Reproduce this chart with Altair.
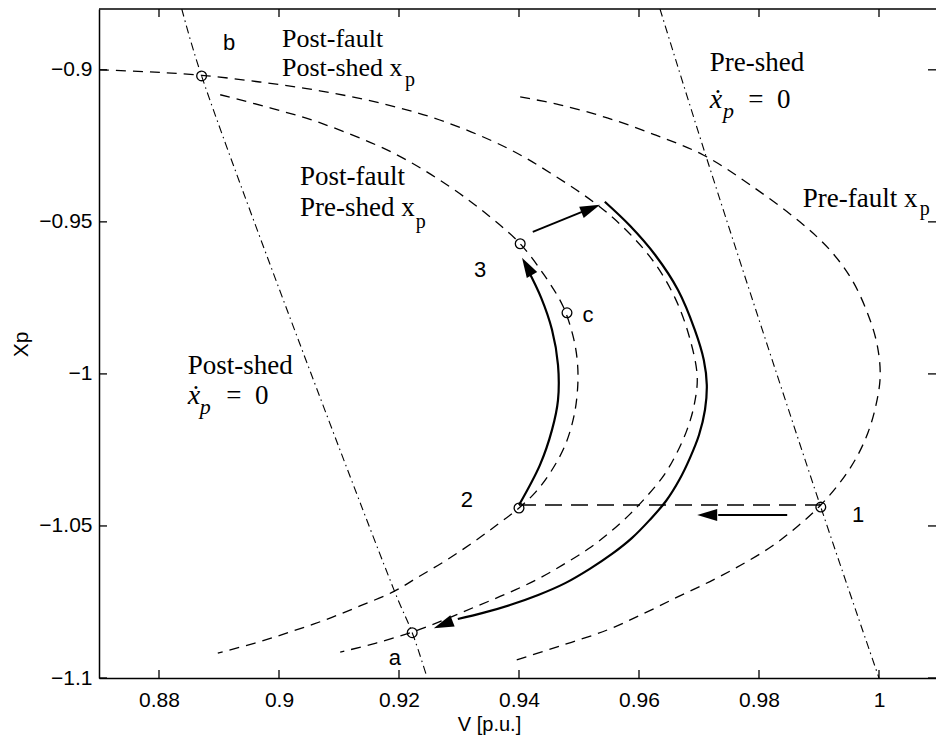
import altair as alt
import pandas as pd

# ---------------- axes ----------------
X_TICKS = [0.88, 0.90, 0.92, 0.94, 0.96, 0.98, 1.00]
Y_TICKS = [-1.10, -1.05, -1.00, -0.95, -0.90]
X_DOMAIN = [0.87, 1.0095]
Y_DOMAIN = [-1.10, -0.88]

# ---------------- dashed nose curves ----------------
PRE_FAULT_V = [0.9402, 0.9468, 0.9547, 0.9627, 0.9707, 0.9785, 0.9868, 0.9918, 0.9955, 0.9982, 0.9997,
               1.0002, 0.9995, 0.9982, 0.9963, 0.9937, 0.9903, 0.9865, 0.9822, 0.9773, 0.9723, 0.9668,
               0.9610, 0.9547, 0.9468, 0.9385]
PRE_FAULT_XP = [-0.9089, -0.9115, -0.9158, -0.9214, -0.9280, -0.9378, -0.9500, -0.9592, -0.9691, -0.9806,
                -0.9905, -1.0007, -1.0102, -1.0191, -1.0273, -1.0352, -1.0431, -1.0500, -1.0566, -1.0625,
                -1.0678, -1.0730, -1.0786, -1.0842, -1.0895, -1.0947]

POST_SHED_V = [0.8700, 0.8785, 0.8871, 0.8968, 0.9068, 0.9168, 0.9268, 0.9380, 0.9460, 0.9535, 0.9585,
               0.9627, 0.9660, 0.9683, 0.9697, 0.9692, 0.9680, 0.9663, 0.9642, 0.9615, 0.9585, 0.9552,
               0.9515, 0.9473, 0.9428, 0.9378, 0.9327, 0.9275, 0.9222, 0.9162, 0.9102]
POST_SHED_XP = [-0.9000, -0.9007, -0.9018, -0.9040, -0.9069, -0.9109, -0.9165, -0.9257, -0.9349, -0.9451,
                -0.9540, -0.9638, -0.9750, -0.9872, -1.0007, -1.0102, -1.0184, -1.0260, -1.0332, -1.0398,
                -1.0461, -1.0520, -1.0576, -1.0628, -1.0678, -1.0724, -1.0766, -1.0809, -1.0849, -1.0885,
                -1.0915]

PRE_SHED_V = [0.8902, 0.8985, 0.9068, 0.9190, 0.9285, 0.9352, 0.9402, 0.9443, 0.9473, 0.9490, 0.9497,
              0.9498, 0.9492, 0.9477, 0.9453, 0.9428, 0.9400, 0.9363, 0.9322, 0.9277, 0.9232, 0.9190,
              0.9135, 0.9077, 0.9018, 0.8960, 0.8898]
PRE_SHED_XP = [-0.9082, -0.9125, -0.9174, -0.9273, -0.9385, -0.9484, -0.9572, -0.9678, -0.9776, -0.9875,
               -0.9954, -1.0036, -1.0135, -1.0234, -1.0322, -1.0388, -1.0441, -1.0497, -1.0556, -1.0615,
               -1.0668, -1.0717, -1.0763, -1.0809, -1.0849, -1.0885, -1.0918]

# horizontal jump 1 -> 2
JUMP_V = [0.9400, 0.9903]
JUMP_XP = [-1.0431, -1.0431]

# ---------------- dash-dot equilibrium lines ----------------
PRESHED_EQ_V = [0.9635, 0.9712, 0.9903, 1.0000]
PRESHED_EQ_XP = [-0.8800, -0.9286, -1.0438, -1.1000]
POSTSHED_EQ_V = [0.8838, 0.8871, 0.9193, 0.9222, 0.9245]
POSTSHED_EQ_XP = [-0.8800, -0.9020, -1.0717, -1.0851, -1.0987]

# ---------------- solid trajectories ----------------
TRAJ1_V = [0.9400, 0.9435, 0.9455, 0.9465, 0.9465, 0.9455, 0.9437, 0.9413]
TRAJ1_XP = [-1.0431, -1.0299, -1.0184, -1.0086, -0.9970, -0.9855, -0.9750, -0.9651]
TRAJ2_V = [0.9543, 0.9585, 0.9627, 0.9665, 0.9693, 0.9708, 0.9713, 0.9710, 0.9700, 0.9685, 0.9667,
           0.9645, 0.9618, 0.9588, 0.9555, 0.9518, 0.9477, 0.9432, 0.9385, 0.9340, 0.9298]
TRAJ2_XP = [-0.9434, -0.9513, -0.9609, -0.9724, -0.9855, -0.9954, -1.0036, -1.0118, -1.0201, -1.0276,
            -1.0349, -1.0418, -1.0480, -1.0540, -1.0592, -1.0641, -1.0688, -1.0727, -1.0760, -1.0786,
            -1.0806]
ARROW3_V = [0.9423, 0.9505]
ARROW3_XP = [-0.9533, -0.9467]
ARROW1_V = [0.9847, 0.9732]
ARROW1_XP = [-1.0464, -1.0464]

# arrow heads (tip positions, direction angle in degrees clockwise from up)
HEAD_V = [0.9405, 0.9535, 0.9697, 0.9258]
HEAD_XP = [-0.9618, -0.9444, -1.0464, -1.0836]
HEAD_ANGLE = [330, 68, 270, 249]

# ---------------- marked points ----------------
PTS_V = [0.8871, 0.9402, 0.9480, 0.9400, 0.9903, 0.9222]
PTS_XP = [-0.9020, -0.9572, -0.9799, -1.0441, -1.0438, -1.0851]

# ---------------- labels ----------------
SANS_TEXT = ["b", "3", "c", "2", "1", "a"]
SANS_V = [0.8917, 0.9335, 0.9515, 0.9313, 0.9965, 0.9193]
SANS_XP = [-0.8934, -0.9681, -0.9829, -1.0438, -1.0487, -1.0957]

BLOCK1_TEXT = ["Post-fault\nPost-shed x"]
BLOCK1_V = [0.9005]
BLOCK1_XP = [-0.8924]
BLOCK2_TEXT = ["Post-fault\nPre-shed x"]
BLOCK2_V = [0.9035]
BLOCK2_XP = [-0.9378]
SERIF_TEXT = ["Pre-shed", "Pre-fault x", "Post-shed", "=", "0", "=", "0"]
SERIF_V = [0.9718, 0.9873, 0.8848, 0.9782, 0.9830, 0.8912, 0.8960]
SERIF_XP = [-0.9003, -0.9451, -1.0000, -0.9125, -0.9125, -1.0099, -1.0099]
SUB_TEXT = ["p", "p", "p"]
SUB_V = [0.9210, 1.0068, 0.9228]
SUB_XP = [-0.9052, -0.9477, -0.9520]
XDOT_V = [0.9718, 0.8848]
XDOT_XP = [-0.9125, -1.0099]
PSUB_V = [0.9740, 0.8868]
PSUB_XP = [-0.9158, -1.0132]

W, H = 837, 669

xs = alt.Scale(domain=X_DOMAIN, nice=False, zero=False)
ys = alt.Scale(domain=Y_DOMAIN, nice=False, zero=False)

x_axis = alt.Axis(values=X_TICKS, format=".2~f", ticks=False, grid=False, domainColor="black",
                  domainWidth=1.5, labelFont="Liberation Sans", labelFontSize=21, labelColor="black",
                  labelPadding=11, title="V [p.u.]", titleFont="Liberation Sans", titleFontSize=20,
                  titleFontWeight="normal", titleColor="black", titleX=390, titleY=52,
                  titleAlign="center", titleBaseline="alphabetic")
y_axis = alt.Axis(values=Y_TICKS, format=".2~f", ticks=False, grid=False, domainColor="black",
                  domainWidth=1.5, labelFont="Liberation Sans", labelFontSize=21, labelColor="black",
                  labelPadding=7, title="Xp", titleFont="Liberation Sans", titleFontSize=21,
                  titleFontWeight="normal", titleColor="black", titleX=-78, titleY=335,
                  titleAlign="center", titleBaseline="middle")

X = alt.X("v:Q", scale=xs, axis=x_axis)
Y = alt.Y("xp:Q", scale=ys, axis=y_axis)


def frame(v, xp, **extra):
    d = pd.DataFrame({"v": v, "xp": xp})
    d["i"] = range(len(d))
    for k, val in extra.items():
        d[k] = val
    return d


curves = pd.concat([
    frame(PRE_FAULT_V, PRE_FAULT_XP, s="prefault"),
    frame(POST_SHED_V, POST_SHED_XP, s="postshed"),
    frame(PRE_SHED_V, PRE_SHED_XP, s="preshed"),
])
eqlines = pd.concat([
    frame(PRESHED_EQ_V, PRESHED_EQ_XP, s="a"),
    frame(POSTSHED_EQ_V, POSTSHED_EQ_XP, s="b"),
])
trajs = pd.concat([
    frame(TRAJ1_V, TRAJ1_XP, s="t1"),
    frame(TRAJ2_V, TRAJ2_XP, s="t2"),
])
arrows = pd.concat([
    frame(ARROW3_V, ARROW3_XP, s="a3"),
    frame(ARROW1_V, ARROW1_XP, s="a1"),
])

l_curves = alt.Chart(curves).mark_line(color="black", strokeWidth=1.3, strokeDash=[10, 7],
                                       interpolate="catmull-rom", clip=True).encode(
    x=X, y=Y, detail="s:N", order="i:Q")
l_jump = alt.Chart(frame(JUMP_V, JUMP_XP)).mark_line(color="black", strokeWidth=1.4,
                                                      strokeDash=[17, 9]).encode(x=X, y=Y, order="i:Q")
l_eq = alt.Chart(eqlines).mark_line(color="black", strokeWidth=1.1, strokeDash=[8, 4, 1.5, 4],
                                    interpolate="catmull-rom", clip=True).encode(
    x=X, y=Y, detail="s:N", order="i:Q")
l_traj = alt.Chart(trajs).mark_line(color="black", strokeWidth=2.2, interpolate="catmull-rom").encode(
    x=X, y=Y, detail="s:N", order="i:Q")
l_arrows = alt.Chart(arrows).mark_line(color="black", strokeWidth=1.8).encode(
    x=X, y=Y, detail="s:N", order="i:Q")
heads = alt.Chart(frame(HEAD_V, HEAD_XP, angle=HEAD_ANGLE)).mark_point(
    shape="M0,0L0.6,2L-0.6,2Z", size=400, filled=True, color="black", opacity=1).encode(
    x=X, y=Y, angle=alt.Angle("angle:Q", scale=None))
pts = alt.Chart(frame(PTS_V, PTS_XP)).mark_point(shape="circle", size=95, filled=False, color="black",
                                                  strokeWidth=1.3, opacity=1).encode(x=X, y=Y)

sans = alt.Chart(frame(SANS_V, SANS_XP, t=SANS_TEXT)).mark_text(
    font="Liberation Sans", fontSize=22, align="center", baseline="alphabetic", color="black").encode(
    x=X, y=Y, text="t:N")
block1 = alt.Chart(frame(BLOCK1_V, BLOCK1_XP, t=BLOCK1_TEXT)).mark_text(
    font="Liberation Serif", fontSize=26, align="left", baseline="alphabetic", color="black",
    lineBreak="\n", lineHeight=29).encode(x=X, y=Y, text="t:N")
block2 = alt.Chart(frame(BLOCK2_V, BLOCK2_XP, t=BLOCK2_TEXT)).mark_text(
    font="Liberation Serif", fontSize=27, align="left", baseline="alphabetic", color="black",
    lineBreak="\n", lineHeight=31).encode(x=X, y=Y, text="t:N")
serif = alt.Chart(frame(SERIF_V, SERIF_XP, t=SERIF_TEXT)).mark_text(
    font="Liberation Serif", fontSize=27, align="left", baseline="alphabetic", color="black").encode(
    x=X, y=Y, text="t:N")
sub = alt.Chart(frame(SUB_V, SUB_XP, t=SUB_TEXT)).mark_text(
    font="Liberation Serif", fontSize=20, align="left", baseline="alphabetic", color="black").encode(
    x=X, y=Y, text="t:N")
xdot = alt.Chart(frame(XDOT_V, XDOT_XP, t=["\u1e8b", "\u1e8b"])).mark_text(
    font="Liberation Serif", fontSize=28, fontStyle="italic", align="left", baseline="alphabetic",
    color="black").encode(x=X, y=Y, text="t:N")
psub = alt.Chart(frame(PSUB_V, PSUB_XP, t=["p", "p"])).mark_text(
    font="Liberation Serif", fontSize=22, fontStyle="italic", align="left", baseline="alphabetic",
    color="black").encode(x=X, y=Y, text="t:N")

# inward tick marks and top border
xt = pd.DataFrame({"v": X_TICKS})
yt = pd.DataFrame({"xp": Y_TICKS})
tick_b = alt.Chart(xt).mark_rule(color="black", strokeWidth=1.3).encode(
    x=X, y=alt.value(H), y2=alt.value(H - 8))
tick_t = alt.Chart(xt).mark_rule(color="black", strokeWidth=1.3).encode(
    x=X, y=alt.value(0), y2=alt.value(8))
tick_l = alt.Chart(yt).mark_rule(color="black", strokeWidth=1.3).encode(
    y=Y, x=alt.value(0), x2=alt.value(8))
tick_r = alt.Chart(yt).mark_rule(color="black", strokeWidth=1.3).encode(
    y=Y, x=alt.value(W), x2=alt.value(W - 8))
top_border = alt.Chart(xt.head(1)).mark_rule(color="black", strokeWidth=1.5).encode(
    x=alt.value(0), x2=alt.value(W), y=alt.value(0))

chart = alt.layer(
    l_curves, l_jump, l_eq, l_traj, l_arrows, heads, pts, sans, block1, block2, serif, sub, xdot, psub,
    tick_b, tick_t, tick_l, tick_r, top_border
).properties(
    width=W, height=H,
    padding={"left": 99, "top": 9, "right": 0, "bottom": 58},
    autosize=alt.AutoSizeParams(type="none"),
    background="white",
).configure_view(stroke=None)

chart.save("out.html", embed_options={"renderer": "svg", "actions": False})
